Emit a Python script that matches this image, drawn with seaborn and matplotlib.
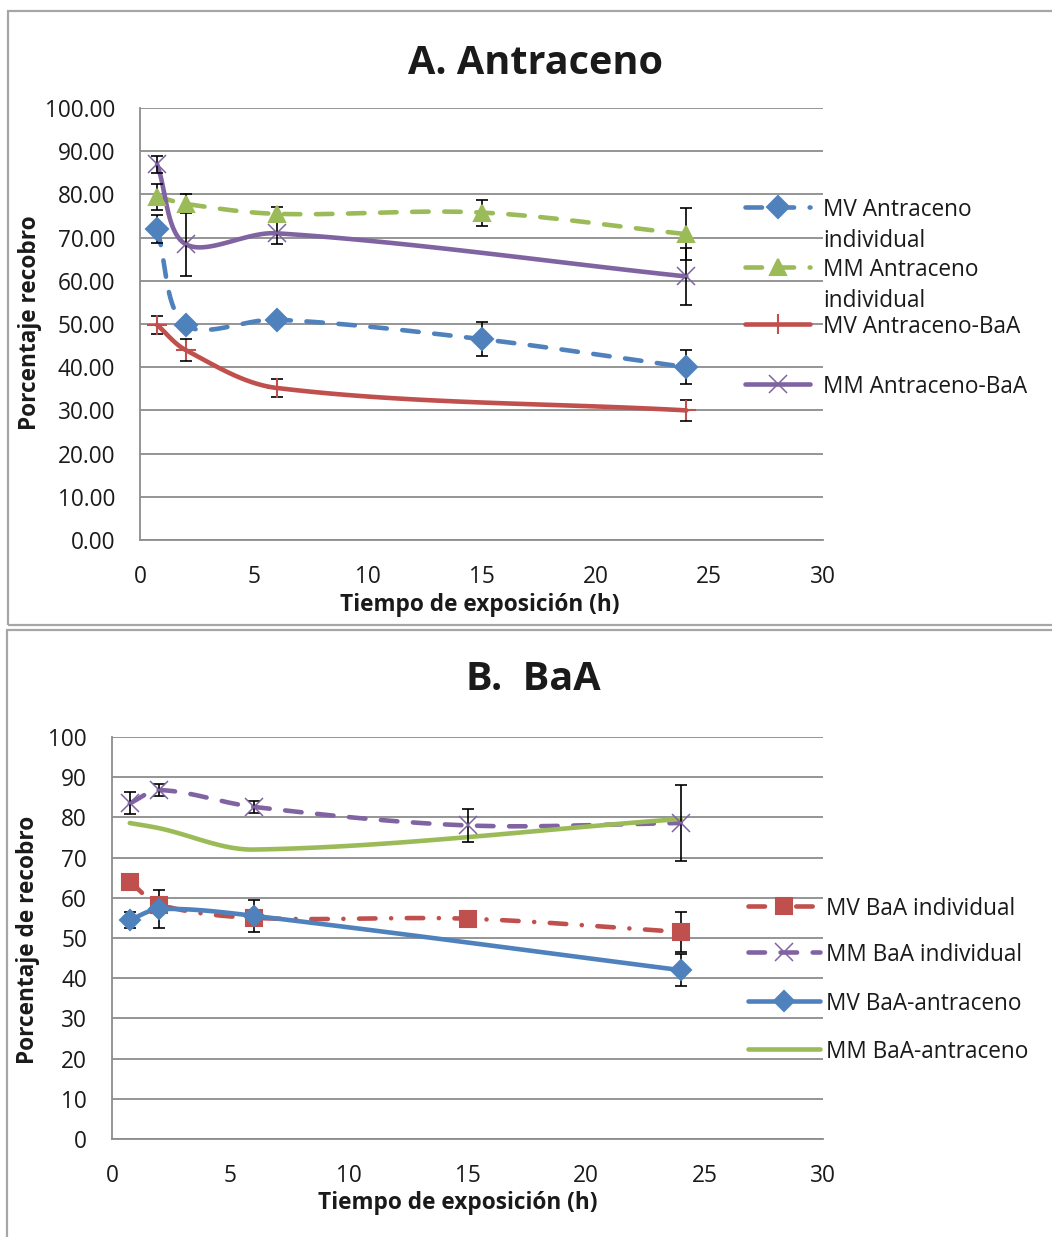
import numpy as np
import seaborn as sns
from matplotlib import pyplot as plt
from matplotlib.lines import Line2D
from matplotlib.patches import Rectangle
from matplotlib.ticker import FormatStrFormatter, MultipleLocator

sns.set_style("white")
plt.rcParams["font.family"] = ["Open Sans", "DejaVu Sans"]

# ========================================================
# data

t_full = [0.75, 2, 6, 15, 24]
t_part = [0.75, 2, 6, 24]

# A. Antraceno
a_mv_ind = [72.0, 49.8, 51.0, 46.5, 40.0]
a_mv_ind_err = [3.2, 0, 0, 4.0, 4.0]
a_mm_ind = [79.5, 77.8, 75.5, 75.8, 70.8]
a_mm_ind_err = [3.0, 2.2, 1.5, 3.0, 6.0]
a_mv_mix = [49.8, 44.0, 35.2, 30.0]
a_mv_mix_err = [2.0, 2.5, 2.0, 2.5]
a_mm_mix = [87.0, 68.5, 71.0, 61.0]
a_mm_mix_err = [2.0, 7.5, 2.5, 6.5]

# B. BaA
b_mv_ind = [64.0, 58.3, 55.0, 54.8, 51.5]
b_mv_ind_err = [0, 0, 0, 0, 5.0]
b_mm_ind = [83.5, 86.8, 82.6, 78.0, 78.6]
b_mm_ind_err = [2.7, 1.5, 1.5, 4.0, 9.4]
b_mv_mix = [54.5, 57.2, 55.5, 42.0]
b_mv_mix_err = [2.0, 4.7, 4.0, 4.0]
b_mm_mix = [78.6, 77.3, 72.0, 79.6]

legend_a = ["MV Antraceno\nindividual", "MM Antraceno\nindividual",
            "MV Antraceno-BaA", "MM Antraceno-BaA"]
legend_b = ["MV BaA individual", "MM BaA individual",
            "MV BaA-antraceno", "MM BaA-antraceno"]

BLUE = "#4f81bd"
GREEN = "#9bbb59"
RED = "#c0504d"
PURPLE = "#8064a2"
GRID = "#8c8c8c"
TXT = "#1a1a1a"

DASH = (0, (3.6, 3.4))
DASHDOT = (0, (3.6, 3.4, 0.01, 3.4))

W, H = 1052, 1237
FS = 16.3


def smooth(x, y, sx, sy, n=40):
    """Smoothed line through the points, bezier with distance weighted tangents
    (worked out in pixel space so it looks like Excel's smoothing)."""
    p = np.column_stack([np.asarray(x, float) * sx, np.asarray(y, float) * sy])
    d = np.hypot(*np.diff(p, axis=0).T)
    k = len(p)
    out = []
    for i in range(k - 1):
        p1, p2 = p[i], p[i + 1]
        if i == 0:
            c1 = p1 + (p2 - p1) / 3
        else:
            c1 = p1 + (p2 - p[i - 1]) * d[i] / (d[i - 1] + d[i]) / 3
        if i + 2 >= k:
            c2 = p2 - (p2 - p1) / 3
        else:
            c2 = p2 - (p[i + 2] - p1) * d[i] / (d[i] + d[i + 1]) / 3
        t = np.linspace(0, 1, n)[:, None]
        seg = (1 - t) ** 3 * p1 + 3 * (1 - t) ** 2 * t * c1 + 3 * (1 - t) * t ** 2 * c2 + t ** 3 * p2
        out.append(seg if i == 0 else seg[1:])
    out = np.vstack(out)
    return out[:, 0] / sx, out[:, 1] / sy


def series(ax, x, y, err, color, ls, marker=None, ms=11, mew=1.5, sx=1, sy=1):
    px, py = smooth(x, y, sx, sy)
    sns.lineplot(x=px, y=py, ax=ax, color=color, lw=3.3,
                 linestyle=ls, sort=False, estimator=None,
                 dash_capstyle="round", solid_capstyle="round")
    if err is not None:
        x = np.asarray(x)
        y = np.asarray(y)
        e = np.asarray(err, dtype=float)
        m = e > 0
        ax.errorbar(x[m], y[m], yerr=e[m], fmt="none", ecolor="black",
                    elinewidth=1.2, capsize=4, capthick=1.2, zorder=5)
    if marker is not None:
        ax.plot(x, y, linestyle="none", marker=marker, ms=ms, color=color,
                mec=color, mew=mew, zorder=6)


def fx(px):
    return px / W


def fy(py):
    return 1 - py / H


def legend_entry(fig, x0, x1, y, text, color, ls, marker=None, ms=11, mew=1.5, tx=None):
    fig.add_artist(Line2D([fx(x0), fx(x1)], [fy(y), fy(y)], color=color, lw=3.3,
                          linestyle=ls, dash_capstyle="round", solid_capstyle="round"))
    if marker is not None:
        fig.add_artist(Line2D([fx((x0 + x1) / 2)], [fy(y)], marker=marker, ms=ms,
                              color=color, mec=color, mew=mew, linestyle="none"))
    fig.text(fx(tx), fy(y - 9), text, fontsize=FS, color=TXT, va="top",
             ha="left", linespacing=1.4)


def style_axes(ax, ymax, fmt):
    ax.set_xlim(0, 30)
    ax.set_ylim(0, ymax)
    ax.xaxis.set_major_locator(MultipleLocator(5))
    ax.yaxis.set_major_locator(MultipleLocator(10))
    ax.yaxis.set_major_formatter(FormatStrFormatter(fmt))
    ax.yaxis.grid(True, color=GRID, lw=1.3)
    ax.set_axisbelow(True)
    for s in ["top", "right"]:
        ax.spines[s].set_visible(False)
    for s in ["left", "bottom"]:
        ax.spines[s].set_color(GRID)
        ax.spines[s].set_linewidth(1.3)
    ax.tick_params(length=0, pad=18, labelsize=FS, colors=TXT)
    ax.set_xlabel("")
    ax.set_ylabel("")
    ax.patch.set_alpha(0)


fig = plt.figure(figsize=(W / 100, H / 100), dpi=100)

# panel frames
fig.add_artist(Rectangle((fx(8), fy(625)), fx(1060) - fx(8), fy(11) - fy(625),
                         fill=False, ec="#a6a6a6", lw=1.6, transform=fig.transFigure))
fig.add_artist(Rectangle((fx(7), fy(1250)), fx(1060) - fx(7), fy(630) - fy(1250),
                         fill=False, ec="#a6a6a6", lw=1.6, transform=fig.transFigure))

# ---------------- A. Antraceno ----------------
axA = fig.add_axes([fx(140), fy(540), fx(823) - fx(140), fy(108) - fy(540)])
sa = dict(sx=(823 - 140) / 30, sy=(540 - 108) / 100)
series(axA, t_full, a_mv_ind, a_mv_ind_err, BLUE, DASH, "D", ms=11, **sa)
series(axA, t_full, a_mm_ind, a_mm_ind_err, GREEN, DASH, "^", ms=12, **sa)
series(axA, t_part, a_mv_mix, a_mv_mix_err, RED, "-", "+", ms=15, mew=1.5, **sa)
series(axA, t_part, a_mm_mix, a_mm_mix_err, PURPLE, "-", "x", ms=13, mew=1.1, **sa)
style_axes(axA, 100, "%.2f")

fig.text(fx(535), fy(63), "A. Antraceno", fontsize=28.5, fontweight="bold",
         ha="center", va="center", color=TXT)
fig.text(fx(30), fy(323), "Porcentaje recobro", fontsize=FS, fontweight="bold",
         rotation=90, ha="center", va="center", color=TXT)
fig.text(fx(480), fy(605), "Tiempo de exposición (h)", fontsize=FS, fontweight="bold",
         ha="center", va="center", color=TXT)

legend_entry(fig, 745, 810, 207, legend_a[0], BLUE, DASH, "D", ms=11, tx=823)
legend_entry(fig, 745, 810, 267, legend_a[1], GREEN, DASH, "^", ms=12, tx=823)
legend_entry(fig, 745, 810, 324, legend_a[2], RED, "-", "|", ms=15, mew=1.5, tx=823)
legend_entry(fig, 745, 810, 384, legend_a[3], PURPLE, "-", "x", ms=13, mew=1.1, tx=823)

# ---------------- B. BaA ----------------
axB = fig.add_axes([fx(112), fy(1139), fx(823) - fx(112), fy(737) - fy(1139)])
sb = dict(sx=(823 - 112) / 30, sy=(1139 - 737) / 100)
series(axB, t_full, b_mv_ind, b_mv_ind_err, RED, DASHDOT, "s", ms=12, **sb)
series(axB, t_full, b_mm_ind, b_mm_ind_err, PURPLE, DASH, "x", ms=13, mew=1.1, **sb)
series(axB, t_part, b_mv_mix, b_mv_mix_err, BLUE, "-", "D", ms=10, **sb)
series(axB, t_part, b_mm_mix, None, GREEN, "-", **sb)
style_axes(axB, 100, "%d")

fig.text(fx(533), fy(680), "B.  BaA", fontsize=28.5, fontweight="bold",
         ha="center", va="center", color=TXT)
fig.text(fx(28), fy(940), "Porcentaje de recobro", fontsize=FS, fontweight="bold",
         rotation=90, ha="center", va="center", color=TXT)
fig.text(fx(458), fy(1203), "Tiempo de exposición (h)", fontsize=FS, fontweight="bold",
         ha="center", va="center", color=TXT)

legend_entry(fig, 748, 820, 906, legend_b[0], RED, DASHDOT, "s", ms=12, tx=826)
legend_entry(fig, 748, 820, 952, legend_b[1], PURPLE, DASH, "x", ms=13, mew=1.1, tx=826)
legend_entry(fig, 748, 820, 1001, legend_b[2], BLUE, "-", "D", ms=10, tx=826)
legend_entry(fig, 748, 820, 1049, legend_b[3], GREEN, "-", tx=826)

fig.savefig("out.png", dpi=100)
